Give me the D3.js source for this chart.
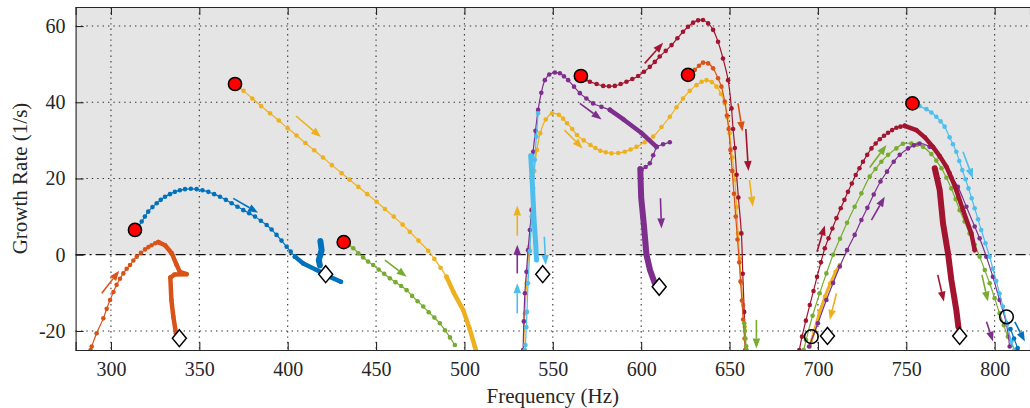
<!DOCTYPE html>
<html>
<head>
<meta charset="utf-8">
<script src="https://cdn.jsdelivr.net/npm/d3@7"></script>
<style>
body { margin: 0; background: #fff; }
svg { display: block; font-family: "Liberation Serif", "DejaVu Serif", serif; }
</style>
</head>
<body>
<svg id="chart" width="1030" height="408"></svg>
<script>
// axis setup
var xDomain = [280, 820];
var yDomain = [-25, 65];
var xTicks = [300, 350, 400, 450, 500, 550, 600, 650, 700, 750, 800];
var yTicks = [-20, 0, 20, 40, 60];

// curves: [frequency (Hz), growth rate (1/s)]
var orangeRise = [[288.5,-25],[289.1,-24.1],[291.9,-20.6],[295.7,-16.7],[297.6,-14.2],[299.5,-11.9],[301.4,-9.8],[303.2,-7.9],[305.1,-6.3],[307,-4.9],[308.9,-3.7],[310.8,-2.7],[312.7,-1.5],[314.6,-0.5],[317,0.5],[319.3,1.4],[321.2,2],[323,2.5],[325,3],[326.8,3.3]];
var orangeHook = [[326.8,3.3],[330.6,2.5],[334.4,0.4],[337.2,-2.7],[339,-4.5],[342.8,-5.1],[336,-5.2],[333.6,-6],[334.2,-11.9],[335.3,-16.3],[336.8,-20.6],[338.2,-22]];
var blueArc = [[314.2,6.5],[317.4,8.7],[319.2,10],[321.1,11.3],[323.5,12.5],[325.9,13.5],[328.2,14.4],[330.6,15.2],[333.4,15.9],[336.2,16.5],[339,16.9],[341.9,17.2],[345.2,17.3],[348.5,17.2],[351.8,16.9],[355.1,16.5],[358.4,15.9],[361.7,15.2],[365,14.4],[368.3,13.5],[371.6,12.6],[374.9,11.7],[378.2,10.9],[381.5,10.0],[384.8,8.9],[388.1,7.8],[390.9,6.6],[393.7,5.2],[396.5,3.7],[399.4,2.1],[401.7,0.8],[404.1,-0.5]];
var blueTail = [[404.1,-0.5],[408.8,-2.3],[416.4,-4.0],[423.9,-5.8],[430.1,-7.1]];
var blueBlob = [[418.5,3.6],[419.2,1.2],[417.6,-1.4],[418.2,-2.8]];
var yellowLine = [[370.2,44.8],[375,43],[380,41],[385,39],[390,37.1],[395,35.2],[400,33.2],[405,31.3],[410,29.3],[415,27.4],[420,25.5],[425,23.5],[430.5,21.4],[435,19.7],[440,17.8],[445,15.9],[450.3,13.9],[455,12],[460,10],[465,7.9],[469.1,6.0],[474,3.7],[479.5,1.05],[483,-1.1],[486.5,-3.4],[489.9,-5.8]];
var yellowTail = [[489.9,-5.8],[494,-10],[499.3,-14.5],[503,-19.5],[505.9,-24.1],[506.5,-25]];
var greenLine = [[431.7,3.3],[434.5,2.5],[437.1,1.7],[440,0.4],[442.7,-0.7],[445.5,-1.8],[448.4,-2.7],[451.5,-3.9],[454.6,-5],[457.8,-6.2],[461,-7.2],[464.2,-8.2],[467.3,-9.3],[470.4,-10.8],[473.5,-12.2],[476.7,-13.6],[479.8,-15.1],[483,-16.5],[486.1,-18],[489,-19.8],[491.8,-21.7],[494.6,-23.7]];
var purpleMid = [[533.2,-25],[533.6,-17.5],[534.2,-10.1],[535.1,-4.5],[536,1.2],[537,6.5],[538,11.7],[538.2,20.5],[538.9,27],[540.2,32.5],[541.7,38],[543.5,42.5],[545.5,45.8],[548,47.3],[551.2,47.8],[554,47.6],[556.3,46.8],[558.7,45.8],[562,44.1],[565.3,42.4],[569,41],[572.8,39.7],[577.5,38.8],[582.3,38.0]];
var purpleBar = [[582.3,38],[590,35.5],[600,32],[608.7,28.3]];
var purpleStub = [[608.7,28.3],[612.4,29],[616.2,29.5]];
var purpleBranch = [[608.7,28.3],[606.8,26.1],[604.9,24],[602.5,23],[600.2,22.2]];
var purpleDrop = [[599.5,22.5],[600,15],[601.5,8],[603,0],[605,-4],[607.7,-7.5]];
var yellowMid = [[533.5,-25],[534.2,-15.4],[535.2,-7.5],[536.5,2],[538,12],[539.5,22],[541,27.5],[542.9,31.9],[546,35.5],[549.6,37.1],[553.4,36.7],[555.8,35.7],[558.1,34.5],[561,33],[563.7,31.4],[567.5,30],[571.3,28.8],[574.1,28],[576.9,27.3],[580,26.9],[583.2,26.6],[587,26.7],[590.7,27.0],[594,27.6],[597.4,28.3],[602,29.5],[606.8,31.0],[611.5,33.5],[616.2,36.2],[620,38.7],[623.7,41.0],[627.5,43],[631.3,44.5],[634.2,45.4],[637,45.8],[640,45.3],[642.6,44.1],[645.2,42.2],[647.3,39.7],[648.8,36],[650.1,31.9],[651.6,25.5],[653,19.6],[654,12.5],[654.8,5.6],[655.8,-1],[656.7,-7.5],[657.7,-13.2],[658.6,-18.9],[659,-25]];
var darkredMid = [[565.9,46.9],[568.4,46],[571,45.4],[574.8,44.8],[578.5,44.3],[581.8,44.2],[585.1,44.3],[588.4,44.8],[591.7,45.4],[595,46.1],[598.3,46.9],[601.6,48],[604.9,49.3],[607.7,50.6],[610.5,52.0],[613.9,53.5],[617.2,55.0],[620.5,56.8],[623.7,58.5],[626.5,59.8],[629.4,60.9],[632.2,61.5],[635,61.6],[637.9,60.7],[640.7,59.0],[643.5,55.9],[646.3,51.5],[649.2,45.8],[651.1,38.4],[652,33],[653,28],[654,21],[655,15],[656.7,5.6],[657.5,-5],[658.3,-15],[659,-25]];
var orangeMid = [[626.5,47.2],[630.3,48.5],[632.7,49.6],[635,50.4],[637.9,50.2],[640.7,48.9],[643.5,46.3],[645.4,44.1],[647.3,40.2],[648.5,36.5],[649.5,33],[650.5,27.5],[651.5,22],[652.5,16],[653.5,10],[654.5,4],[655.5,-2],[656.2,-7],[657,-12],[657.7,-17],[658.5,-22],[659,-25]];
var lightblueMid = [[534.2,-25],[534.5,-23.7],[535,-19],[535.4,-15],[536,-7.5],[537,1],[538,10],[538.9,17.5],[539.8,24.9],[540.7,31],[541.7,37.1]];
var lightblueBlob = [[537.5,26],[538.5,18],[539.3,10],[540.3,3],[540.8,-1.4]];
var greenMid = [[658.3,-18],[658.7,-20],[659,-22],[659.4,-24],[659.6,-25]];
var darkredRight = [[689.5,-25],[691,-21.5],[693.2,-17.3],[695.4,-13.2],[697.5,-9.5],[699.5,-5.8],[701.7,-2],[703.9,1.7],[706,4.3],[708.2,6.9],[710.5,9.6],[712.9,12.2],[715,14.4],[717,16.5],[719.2,18.7],[721.4,20.9],[723.5,22.7],[725.5,24.4],[727.9,26.2],[730.3,27.9],[732.7,29.2],[735,30.3],[737.4,31.2],[739.7,32.0],[742,32.7],[744.4,33.3],[746.7,33.6],[749.1,33.8]];
var darkredArc = [[749.1,33.8],[755.7,32.7],[760.5,30.8],[765.1,28.3],[769,25.8],[772.7,23.1],[775.5,20.2],[778.3,17.0],[782.1,11.7],[786.8,5.6],[788.7,1.2]];
var darkredDrop = [[766.1,22.7],[768.9,17.0],[770.8,8.2],[773.6,0.4],[775.5,-6.6],[778.3,-14.5],[779.5,-19]];
var greenRight = [[692,-25],[693.3,-22.4],[697,-16],[701,-10.1],[704.8,-4.9],[708.6,0],[712.5,4.2],[716.5,8.4],[720.8,12.6],[724.6,16.1],[729.3,20.5],[732.6,22.5],[735.9,24.4],[739.7,26.2],[744.4,27.9],[748.1,29.1],[752.9,29.2],[756.2,28.9],[759.5,28.3],[764.2,26.4],[767,24.7],[769.9,22.7],[772.7,20.2],[775.5,17.4],[777.9,14.6],[780.2,11.7],[783,8.7],[785.8,5.6],[788.7,2.6],[791.5,-0.5],[794.4,-4],[797.2,-7.5],[800,-11.4],[802.8,-15.4],[805.2,-18.5],[807.5,-21.5],[811.3,-25]];
var purpleRight = [[695,-24.1],[700,-18],[704.8,-11.9],[708.6,-7.4],[712.4,-3.1],[716.5,1.2],[720.8,5.2],[724.6,9.1],[728,12.3],[731.6,15.8],[735.4,19.2],[739.1,21.8],[742.9,24.4],[746.3,26.2],[751,27.9],[754.3,28.7],[757.5,29.2],[763.2,28.3],[768.9,25.7],[774.5,21.4],[779.2,17.8],[784,12.6],[788.7,7.4],[791.5,4.3],[795.3,-0.5],[799,-5.8],[802.8,-11.9],[806.6,-18],[808.5,-24.1]];
var lightblueRight = [[753.5,39.7],[757.5,39],[761.4,38.2],[764.2,37.3],[767,36.2],[769.4,35],[771.7,33.6],[774.5,30.8],[776.4,29],[778.3,27.0],[780,24.6],[781.7,22.2],[783.5,19.8],[785.2,17.4],[787,14.8],[788.7,12.2],[790.6,9.3],[792.4,6.5],[794.8,3],[797.2,-0.5],[799,-3.7],[800.9,-6.9],[802.8,-10.2],[804.7,-13.6],[807.1,-18.2],[809.5,-22.8],[811.3,-25]];
var yellowRight = [[695.4,-24.1],[698,-20],[701,-15],[704,-11],[707,-7.5],[710,-4.5],[712.4,-2.7]];
var blueRight = [[809,-19.5],[811,-22],[813,-24.5]];

// arrows: [f1, g1, f2, g2]
var arrowsOrange = [[294.8,-10.1,304.7,-4.2],[654.8,39.7,657.3,32.3]];
var arrowsBlue = [[369.2,14.8,383.3,11.0],[811.4,-17.6,817.1,-22.8]];
var arrowsYellow = [[404.7,36.4,418.8,30.9],[529.9,5.0,529.9,12.9],[556.6,32.7,566.9,27.9],[661.3,19.6,663.2,12.6],[710.5,-10.1,706.7,-17.1]];
var arrowsPurple = [[529.9,-4.9,529.9,2.6],[565.3,39.7,577.6,35.5],[610.9,14.8,611.5,6.9],[730.3,9.1,737.8,15.2],[795.4,-17.6,799.1,-22.8]];
var arrowsGreen = [[455,-1.4,467.3,-5.8],[665.2,-17.1,665.2,-24.6],[729.3,22.9,738.8,28.8],[792.8,-5.3,796.2,-12.3]];
var arrowsLightblue = [[529.9,-15.4,529.9,-7.5],[545.2,4.7,546,-2.7],[782.1,27,787.7,20]];
var arrowsDarkred = [[602,50.2,612.4,55.6],[659.2,33,660.7,22],[699.5,0.8,703.9,7.7],[767.8,-5.3,771.3,-12.3]];

// markers
var startPoints = [[313.6,6.5],[370.2,44.8],[431.7,3.3],[565.9,46.9],[626.5,47.2],[753.5,39.7]];
var endPoints = [[338.7,-21.9],[421.5,-5.1],[544.3,-5.1],[610.2,-8.4],[705.4,-21.3],[780.2,-21.3]];
var openPoints = [[696.3,-21.5],[806.7,-16.3]];

var col = {
    blue: "#0072BD", orange: "#D95319", yellow: "#EDB120", purple: "#7E2F8E",
    green: "#77AC30", lightblue: "#4DBEEE", darkred: "#A2142F"
};

// w = 0: line with dots, w > 0: dense dots drawn as a fat stroke
var series = [
    {pts: orangeRise, c: col.orange, w: 0},
    {pts: orangeHook, c: col.orange, w: 4.5},
    {pts: blueArc, c: col.blue, w: 0},
    {pts: blueTail, c: col.blue, w: 4.5},
    {pts: blueBlob, c: col.blue, w: 6},
    {pts: yellowLine, c: col.yellow, w: 0},
    {pts: yellowTail, c: col.yellow, w: 4.5},
    {pts: greenLine, c: col.green, w: 0},
    {pts: yellowMid, c: col.yellow, w: 0},
    {pts: darkredMid, c: col.darkred, w: 0},
    {pts: orangeMid, c: col.orange, w: 0},
    {pts: purpleMid, c: col.purple, w: 0},
    {pts: purpleBar, c: col.purple, w: 4.5},
    {pts: purpleStub, c: col.purple, w: 0},
    {pts: purpleBranch, c: col.purple, w: 0},
    {pts: purpleDrop, c: col.purple, w: 6},
    {pts: lightblueMid, c: col.lightblue, w: 0},
    {pts: lightblueBlob, c: col.lightblue, w: 5},
    {pts: greenMid, c: col.green, w: 0},
    {pts: yellowRight, c: col.yellow, w: 3},
    {pts: darkredRight, c: col.darkred, w: 0},
    {pts: greenRight, c: col.green, w: 0},
    {pts: purpleRight, c: col.purple, w: 0},
    {pts: lightblueRight, c: col.lightblue, w: 0},
    {pts: darkredArc, c: col.darkred, w: 4.5},
    {pts: darkredDrop, c: col.darkred, w: 6},
    {pts: blueRight, c: col.blue, w: 0}
];
var arrows = [
    {list: arrowsOrange, c: col.orange}, {list: arrowsBlue, c: col.blue},
    {list: arrowsYellow, c: col.yellow}, {list: arrowsPurple, c: col.purple},
    {list: arrowsGreen, c: col.green}, {list: arrowsLightblue, c: col.lightblue},
    {list: arrowsDarkred, c: col.darkred}
];

function draw() {
    var svg = d3.select("#chart");
    var mLeft = 75.6, mRight = 1030, mTop = 7, mBottom = 350;

    var x = d3.scaleLinear().domain(xDomain).range([mLeft, mRight]);
    var y = d3.scaleLinear().domain(yDomain).range([mBottom, mTop]);

    svg.append("defs").append("clipPath").attr("id", "clip")
        .append("rect").attr("x", mLeft).attr("y", mTop)
        .attr("width", mRight - mLeft).attr("height", mBottom - mTop);

    // shaded unstable region
    svg.append("rect")
        .attr("x", mLeft).attr("y", y(yDomain[1]))
        .attr("width", mRight - mLeft).attr("height", y(0) - y(yDomain[1]))
        .attr("fill", "#e5e5e5");

    // grid
    var grid = svg.append("g").attr("stroke", "#333").attr("stroke-width", 1.1)
        .attr("stroke-dasharray", "1.4,4");
    grid.selectAll(".gx").data(xTicks).enter().append("line")
        .attr("x1", function (d) { return x(d); }).attr("x2", function (d) { return x(d); })
        .attr("y1", mTop).attr("y2", mBottom);
    grid.selectAll(".gy").data(yTicks.filter(function (d) { return d !== 0; })).enter().append("line")
        .attr("x1", mLeft).attr("x2", mRight)
        .attr("y1", function (d) { return y(d); }).attr("y2", function (d) { return y(d); });

    svg.append("line")
        .attr("x1", mLeft).attr("x2", mRight).attr("y1", y(0)).attr("y2", y(0))
        .attr("stroke", "#111").attr("stroke-width", 1.3)
        .attr("stroke-dasharray", "10,4,2,4");

    var plot = svg.append("g").attr("clip-path", "url(#clip)");

    var thinLine = d3.line()
        .x(function (d) { return x(d[0]); }).y(function (d) { return y(d[1]); })
        .curve(d3.curveCatmullRom.alpha(0.5));
    var fatLine = d3.line()
        .x(function (d) { return x(d[0]); }).y(function (d) { return y(d[1]); });

    series.forEach(function (s) {
        if (s.w > 0) {
            plot.append("path").attr("d", fatLine(s.pts))
                .attr("fill", "none").attr("stroke", s.c).attr("stroke-width", s.w)
                .attr("stroke-linecap", "round").attr("stroke-linejoin", "round");
        } else {
            plot.append("path").attr("d", thinLine(s.pts))
                .attr("fill", "none").attr("stroke", s.c).attr("stroke-width", 1.2);
        }
        plot.append("g").selectAll("circle").data(s.pts).enter().append("circle")
            .attr("cx", function (d) { return x(d[0]); })
            .attr("cy", function (d) { return y(d[1]); })
            .attr("r", 2.3).attr("fill", s.c);
    });

    // direction arrows
    arrows.forEach(function (a) {
        a.list.forEach(function (d) {
            var x1 = x(d[0]), y1 = y(d[1]), x2 = x(d[2]), y2 = y(d[3]);
            var ang = Math.atan2(y2 - y1, x2 - x1);
            var hl = 10, hw = 3.8;
            var bx = x2 - hl * Math.cos(ang), by = y2 - hl * Math.sin(ang);
            plot.append("line").attr("x1", x1).attr("y1", y1).attr("x2", bx).attr("y2", by)
                .attr("stroke", a.c).attr("stroke-width", 1.6);
            var px = -Math.sin(ang) * hw, py = Math.cos(ang) * hw;
            plot.append("path")
                .attr("d", "M" + x2 + "," + y2 + "L" + (bx + px) + "," + (by + py) + "L" + (bx - px) + "," + (by - py) + "Z")
                .attr("fill", a.c);
        });
    });

    plot.selectAll(".start").data(startPoints).enter().append("circle")
        .attr("cx", function (d) { return x(d[0]); }).attr("cy", function (d) { return y(d[1]); })
        .attr("r", 6.6).attr("fill", "#ff0000").attr("stroke", "#000").attr("stroke-width", 1.5);

    plot.selectAll(".open").data(openPoints).enter().append("circle")
        .attr("cx", function (d) { return x(d[0]); }).attr("cy", function (d) { return y(d[1]); })
        .attr("r", 6.8).attr("fill", "none").attr("stroke", "#000").attr("stroke-width", 1.5);

    plot.selectAll(".end").data(endPoints).enter().append("path")
        .attr("d", function (d) {
            var cx = x(d[0]), cy = y(d[1]);
            return "M" + cx + "," + (cy - 8.5) + "L" + (cx + 7) + "," + cy + "L" + cx + "," + (cy + 8.5) + "L" + (cx - 7) + "," + cy + "Z";
        })
        .attr("fill", "#fff").attr("stroke", "#000").attr("stroke-width", 1.5);

    // axes
    var fmt = function (d) { return String(d); };
    var gx = svg.append("g").attr("transform", "translate(0," + mBottom + ")")
        .call(d3.axisBottom(x).tickValues(xTicks).tickSize(-8).tickPadding(12).tickFormat(fmt));
    var gt = svg.append("g").attr("transform", "translate(0," + mTop + ")")
        .call(d3.axisTop(x).tickValues(xTicks).tickSize(-8).tickFormat(""));
    var gy = svg.append("g").attr("transform", "translate(" + mLeft + ",0)")
        .call(d3.axisLeft(y).tickValues(yTicks).tickSize(-8).tickPadding(10).tickFormat(fmt));

    [gx, gt, gy].forEach(function (g) {
        g.select(".domain").attr("stroke", "#262626").attr("stroke-width", 1.1);
        g.selectAll(".tick line").attr("stroke", "#262626").attr("stroke-width", 1.1);
        g.selectAll("text").attr("fill", "#262626").style("font-size", "20px")
            .style("font-family", "'Liberation Serif', 'DejaVu Serif', serif");
    });

    svg.append("text")
        .attr("x", (mLeft + mRight) / 2).attr("y", 403)
        .attr("text-anchor", "middle").attr("fill", "#262626")
        .style("font-size", "21px")
        .text("Frequency (Hz)");

    svg.append("text")
        .attr("transform", "translate(27," + ((mTop + mBottom) / 2) + ")rotate(-90)")
        .attr("text-anchor", "middle").attr("fill", "#262626")
        .style("font-size", "21px")
        .text("Growth Rate (1/s)");
}
draw();
</script>
</body>
</html>
